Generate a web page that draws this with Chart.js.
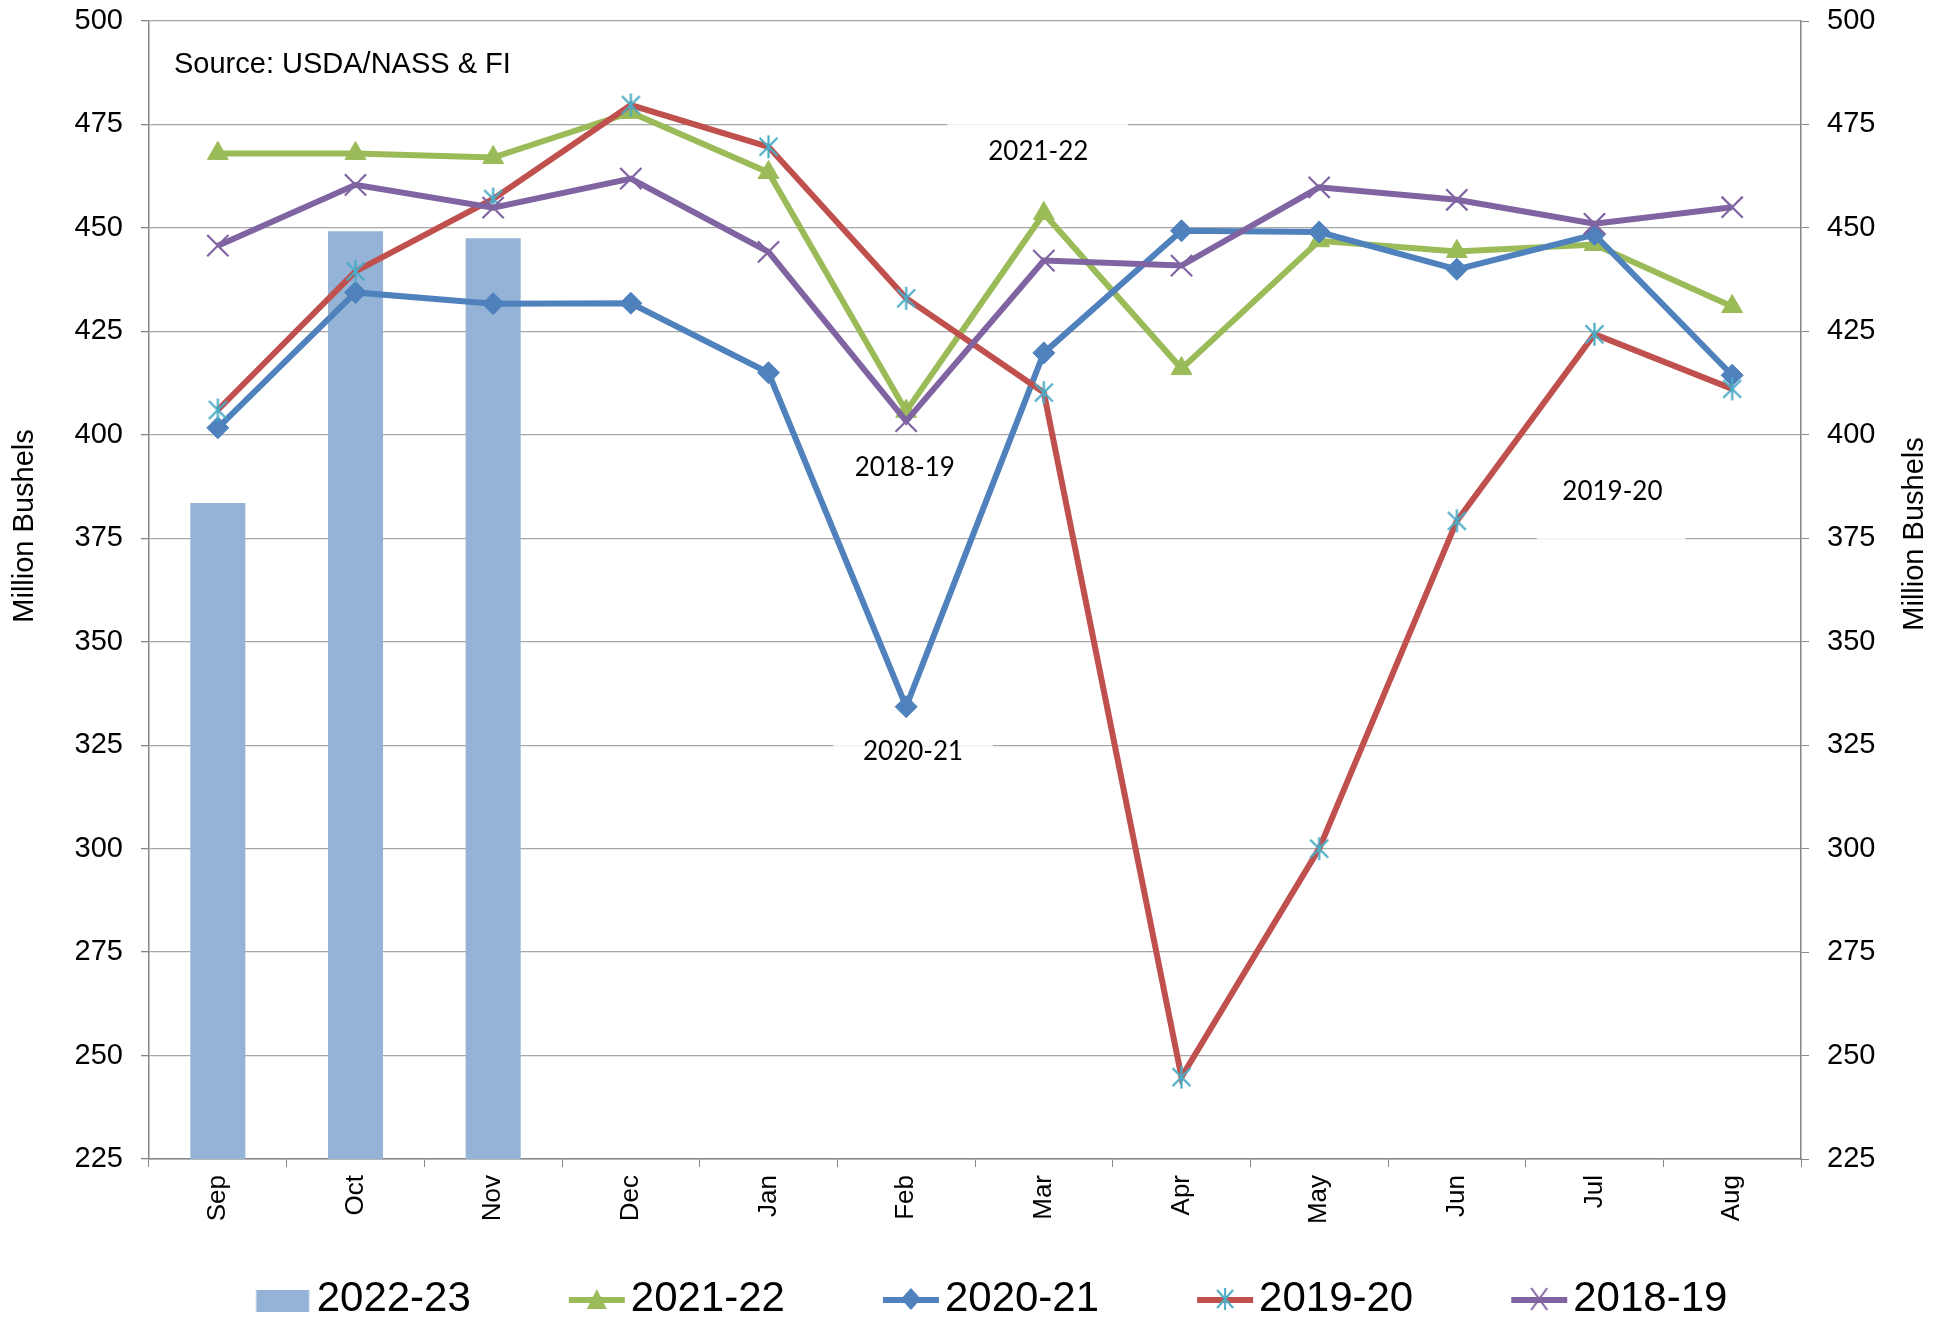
<!DOCTYPE html>
<html>
<head>
<meta charset="utf-8">
<script src="https://cdn.jsdelivr.net/npm/chart.js@4.4.0/dist/chart.umd.min.js"></script>
<style>
html,body{margin:0;padding:0;background:#fff;overflow:hidden;}
#wrap{position:relative;width:1948px;height:1330px;}
</style>
</head>
<body>
<div id="wrap"><canvas id="c"></canvas></div>
<script>
// ---------- DATA ----------
const months = ['Sep','Oct','Nov','Dec','Jan','Feb','Mar','Apr','May','Jun','Jul','Aug'];
const seriesNames = ['2022-23','2021-22','2020-21','2019-20','2018-19'];
const s2022_23 = [383.5, 449.2, 447.5, null, null, null, null, null, null, null, null, null];
const s2021_22 = [468.0, 468.0, 467.0, 477.9, 463.4, 405.7, 453.5, 416.0, 446.9, 444.3, 446.0, 431.0];
const s2020_21 = [401.7, 434.4, 431.7, 431.8, 415.0, 334.3, 419.8, 449.3, 449.0, 440.0, 448.4, 414.4];
const s2019_20 = [406.0, 439.5, 457.0, 479.7, 469.6, 433.0, 410.2, 244.8, 300.0, 379.2, 424.3, 411.1];
const s2018_19 = [445.7, 460.4, 454.9, 461.9, 444.2, 403.3, 442.1, 440.9, 459.8, 456.8, 451.0, 455.0];
const yTicksMin = 225, yTicksMax = 500, yStep = 25;
const sourceText = 'Source: USDA/NASS & FI';
const axisTitle = 'Million Bushels';
// annotation labels: text, category position (decimal index), value
const annoText = ['2021-22', '2018-19', '2020-21', '2019-20'];
const annoCat  = [5.96, 4.99, 5.05, 10.13];
const annoVal  = [468.5, 392.0, 323.4, 386.2];
// faint white label-box remnants over gridlines: value, from index, to index
const gapVal  = [475, 325, 375];
const gapFrom = [5.30, 4.47, 9.58];
const gapTo   = [6.61, 5.63, 10.66];

// ---------- STYLE ----------
const FONT = "'Liberation Sans', Arial, sans-serif";
const cBar = '#95B3D7', cGreen = '#9BBB59', cBlue = '#4F81BD', cRed = '#C0504D', cPurple = '#8064A2', cCyan = '#4BACC6';

function asterisk(size, color, lw) {
  const c = document.createElement('canvas');
  c.width = size; c.height = size;
  const g = c.getContext('2d');
  const m = size / 2, r = size / 2 - 1;
  g.strokeStyle = color; g.lineWidth = lw;
  g.beginPath();
  g.moveTo(m, m - r); g.lineTo(m, m + r);
  const d = r * 0.78;
  g.moveTo(m - d, m - d); g.lineTo(m + d, m + d);
  g.moveTo(m + d, m - d); g.lineTo(m - d, m + d);
  g.stroke();
  return c;
}

function legendIcon(kind, color) {
  const W = 124, H = 34, cx = 62 + 32, cy = 17;
  const c = document.createElement('canvas');
  c.width = W; c.height = H;
  const g = c.getContext('2d');
  if (kind === 'bar') {
    g.fillStyle = color;
    g.fillRect(cx - 26.5, cy - 11 + 2, 53, 22);
    return c;
  }
  g.strokeStyle = color; g.lineWidth = 6;
  g.beginPath(); g.moveTo(cx - 28, cy + 1); g.lineTo(cx + 28, cy + 1); g.stroke();
  if (kind === 'tri') {
    g.fillStyle = color; g.beginPath();
    g.moveTo(cx, cy - 10); g.lineTo(cx + 10, cy + 10); g.lineTo(cx - 10, cy + 10); g.closePath(); g.fill();
  } else if (kind === 'dia') {
    g.fillStyle = color; g.beginPath();
    g.moveTo(cx, cy - 11); g.lineTo(cx + 10, cy); g.lineTo(cx, cy + 11); g.lineTo(cx - 10, cy); g.closePath(); g.fill();
  } else if (kind === 'star') {
    g.strokeStyle = cCyan; g.lineWidth = 2; g.beginPath();
    g.moveTo(cx, cy - 11); g.lineTo(cx, cy + 11);
    g.moveTo(cx - 8, cy - 9); g.lineTo(cx + 8, cy + 9);
    g.moveTo(cx + 8, cy - 9); g.lineTo(cx - 8, cy + 9);
    g.stroke();
  } else if (kind === 'x') {
    g.strokeStyle = color; g.lineWidth = 2; g.beginPath();
    g.moveTo(cx - 8, cy - 11); g.lineTo(cx + 8, cy + 11);
    g.moveTo(cx + 8, cy - 11); g.lineTo(cx - 8, cy + 11);
    g.stroke();
  }
  return c;
}

const legendIcons = [
  legendIcon('bar', cBar), legendIcon('tri', cGreen), legendIcon('dia', cBlue),
  legendIcon('star', cRed), legendIcon('x', cPurple)
];

const textPlugin = {
  id: 'texts',
  beforeDatasetsDraw(chart) {
    const {ctx, scales: {x, y}} = chart;
    ctx.save();
    ctx.strokeStyle = 'rgba(255,255,255,0.85)';
    ctx.lineWidth = 3;
    gapVal.forEach((v, i) => {
      const py = y.getPixelForValue(v);
      ctx.beginPath();
      ctx.moveTo(x.getPixelForValue(gapFrom[i]), py);
      ctx.lineTo(x.getPixelForValue(gapTo[i]), py);
      ctx.stroke();
    });
    ctx.restore();
  },
  afterDraw(chart) {
    const {ctx, chartArea, scales: {x, y}} = chart;
    ctx.save();
    ctx.fillStyle = '#000';
    ctx.font = "29px " + FONT;
    ctx.textAlign = 'left'; ctx.textBaseline = 'middle';
    ctx.fillText(sourceText, chartArea.left + 25, 65);
    ctx.font = "26px Lato, 'Open Sans', sans-serif";
    ctx.textAlign = 'center';
    annoText.forEach((t, i) => {
      ctx.fillText(t, x.getPixelForValue(annoCat[i]), y.getPixelForValue(annoVal[i]));
    });
    ctx.font = "29px " + FONT;
    [[25, 526], [1915, 534]].forEach(([tx, ty]) => {
      ctx.save();
      ctx.translate(tx, ty);
      ctx.rotate(-Math.PI / 2);
      ctx.fillText(axisTitle, 0, 0);
      ctx.restore();
    });
    ctx.restore();
  }
};

const yCommon = {
  min: yTicksMin, max: yTicksMax,
  ticks: { stepSize: yStep, padding: 18, color: '#000', font: { family: FONT, size: 29, lineHeight: 0.2 } },
  border: { color: '#868686', width: 1.5 },
};

new Chart(document.getElementById('c'), {
  type: 'bar',
  data: {
    labels: months,
    datasets: [
      { type: 'bar', label: seriesNames[0], data: s2022_23, backgroundColor: cBar, borderWidth: 0,
        barPercentage: 0.4, categoryPercentage: 1.0, order: 5 },
      { type: 'line', label: seriesNames[1], data: s2021_22, borderColor: cGreen, backgroundColor: cGreen,
        borderWidth: 6, tension: 0, pointStyle: 'triangle', pointRadius: 12,
        pointBackgroundColor: cGreen, pointBorderColor: cGreen, pointBorderWidth: 1, order: 4 },
      { type: 'line', label: seriesNames[2], data: s2020_21, borderColor: cBlue, backgroundColor: cBlue,
        borderWidth: 6, tension: 0, pointStyle: 'rectRot', pointRadius: 11,
        pointBackgroundColor: cBlue, pointBorderColor: cBlue, pointBorderWidth: 1, order: 3 },
      { type: 'line', label: seriesNames[3], data: s2019_20, borderColor: cRed, backgroundColor: cRed,
        borderWidth: 6, tension: 0, pointStyle: asterisk(25, cCyan, 2.2), pointRadius: 12, order: 2 },
      { type: 'line', label: seriesNames[4], data: s2018_19, borderColor: cPurple, backgroundColor: cPurple,
        borderWidth: 6, tension: 0, pointStyle: 'crossRot', pointRadius: 15,
        pointBorderColor: cPurple, pointBorderWidth: 2.2, order: 1 }
    ]
  },
  options: {
    responsive: true,
    maintainAspectRatio: false,
    animation: false,
    events: [],
    layout: { padding: { top: 21, left: 0, right: 15, bottom: 0 } },
    plugins: {
      tooltip: { enabled: false },
      legend: {
        position: 'bottom',
        align: 'center',
        labels: {
          usePointStyle: true,
          pointStyleWidth: 90,
          padding: 49,
          color: '#000',
          font: { family: FONT, size: 42 },
          generateLabels: (chart) => chart.data.datasets.map((ds, i) => ({
            text: ds.label, fillStyle: 'rgba(0,0,0,0)', strokeStyle: 'rgba(0,0,0,0)',
            lineWidth: 0, pointStyle: legendIcons[i], hidden: false, datasetIndex: i, fontColor: '#000'
          }))
        }
      }
    },
    scales: {
      x: {
        offset: true,
        grid: { offset: true, drawOnChartArea: false, drawTicks: true, tickLength: 8, color: '#868686' },
        border: { color: '#868686', width: 1.5 },
        ticks: { minRotation: 90, maxRotation: 90, autoSkip: false, padding: 8, color: '#000',
                 font: { family: FONT, size: 26 } },
        afterFit(s) { s.height = 70; }
      },
      y: Object.assign({}, yCommon, {
        position: 'left',
        grid: { color: '#A6A6A6', lineWidth: 1.3, tickLength: 8, tickColor: '#868686' },
        afterFit(s) { s.width = 149; }
      }),
      y2: Object.assign({}, yCommon, {
        position: 'right',
        grid: { drawOnChartArea: false, tickLength: 8, color: '#868686' },
        afterFit(s) { s.width = 132; }
      })
    }
  },
  plugins: [textPlugin]
});
</script>
</body>
</html>
